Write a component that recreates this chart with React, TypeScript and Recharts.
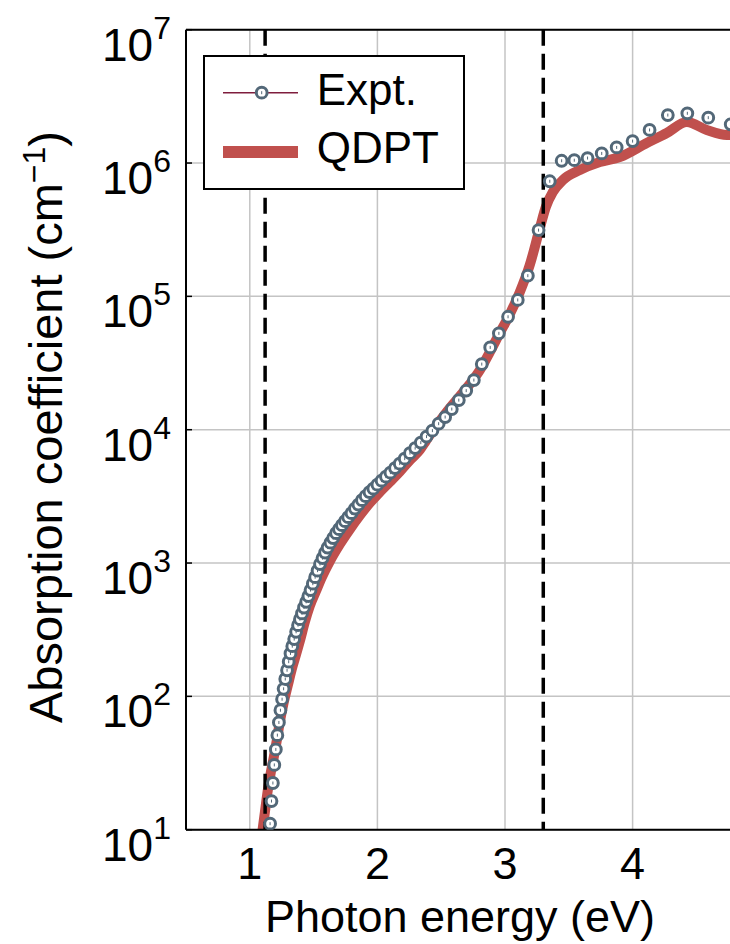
import React from 'react';
import { ComposedChart, Line, XAxis, YAxis, CartesianGrid, ReferenceLine } from 'recharts';

// Experimental points: photon energy (eV)
const exptEnergy = [
  1.159, 1.170, 1.181, 1.192, 1.204, 1.216, 1.228, 1.240, 1.253, 1.265,
  1.278, 1.292, 1.305, 1.319, 1.333, 1.348, 1.363, 1.378, 1.393, 1.409,
  1.425, 1.442, 1.459, 1.476, 1.494, 1.512, 1.531, 1.550, 1.570, 1.590,
  1.610, 1.632, 1.653, 1.676, 1.699, 1.722, 1.746, 1.771, 1.797, 1.824,
  1.851, 1.879, 1.908, 1.938, 1.968, 2.000, 2.033, 2.067, 2.102, 2.138,
  2.175, 2.214, 2.255, 2.296, 2.340, 2.385, 2.431, 2.480, 2.531, 2.583,
  2.638, 2.696, 2.756, 2.818, 2.884, 2.952, 3.024, 3.100, 3.179, 3.263,
  3.351, 3.444, 3.543, 3.647, 3.758, 3.875, 4.000, 4.133, 4.276, 4.429,
  4.593, 4.769,
];
// Experimental absorption coefficient (cm^-1)
const exptAbs = [
  11.1, 16.4, 22.4, 30.6, 40.0, 51.2, 63.7, 78.7, 95.2, 114,
  135, 157, 182, 210, 238, 269, 305, 342, 379, 419,
  464, 512, 565, 627, 700, 783, 877, 982, 1089, 1197,
  1306, 1422, 1538, 1675, 1795, 1924, 2061, 2208, 2366, 2559,
  2742, 2963, 3175, 3404, 3614, 3873, 4150, 4446, 4764, 5152,
  5566, 6067, 6670, 7278, 8000, 8876, 9840, 11100, 12440, 14280,
  16670, 19640, 23560, 31050, 41400, 52800, 70300, 94000, 143000, 314000,
  730000, 1040000, 1050000, 1090000, 1180000, 1310000, 1460000, 1770000, 2290000, 2360000,
  2190000, 1950000,
];

// QDPT calculated curve
const qdptEnergy = [
  1.100, 1.118, 1.141, 1.165, 1.188, 1.212, 1.235, 1.266, 1.298, 1.329,
  1.361, 1.392, 1.431, 1.470, 1.517, 1.564, 1.627, 1.705, 1.784, 1.862,
  1.940, 2.003, 2.097, 2.176, 2.254, 2.332, 2.379, 2.426, 2.489, 2.567,
  2.646, 2.724, 2.803, 2.881, 2.959, 3.038, 3.116, 3.194, 3.273, 3.320,
  3.375, 3.453, 3.586, 3.743, 3.900, 4.111, 4.268, 4.425, 4.581, 4.738,
  4.900,
];
const qdptAbs = [
  10, 13.5, 19.8, 27.0, 35.0, 46.9, 64.0, 90.6, 121, 160,
  204, 259, 360, 475, 610, 780, 1030, 1380, 1790, 2270,
  2820, 3280, 4050, 4850, 5900, 7031, 8210, 9590, 11600, 14520,
  17870, 21980, 28000, 38200, 53100, 73600, 107700, 171800, 325000, 468000,
  606000, 745000, 886000, 1017000, 1109000, 1413000, 1679000, 2030000, 1769000, 1622000,
  1650000,
];

const xTicks = [1, 2, 3, 4];
const yTicks = [10, 100, 1000, 10000, 100000, 1000000, 10000000];
const bandEdges = [1.12, 3.3];

const seriesNames = ['Expt.', 'QDPT'];
const xLabel = 'Photon energy (eV)';
const yLabelMain = 'Absorption coefficient (cm';
const yLabelSup = '\u22121';

const exptData = exptEnergy.map((x, i) => ({ x, y: exptAbs[i] }));
const qdptData = qdptEnergy.map((x, i) => ({ x, y: qdptAbs[i] }));

const FONT = '"Liberation Sans", Arial, Helvetica, sans-serif';
const RED = '#c0504d';
const MARKER = '#536878';
const MAROON = '#7f1d3d';

const PLOT_LEFT = 186;

const ExptDot = (props: any) => {
  const { cx, cy, index } = props;
  if (cx == null || cy == null) return <g key={`d${index}`} />;
  return (
    <g key={`d${index}`}>
      <circle cx={cx} cy={cy} r={5.4} fill="#ffffff" stroke={MARKER} strokeWidth={3} />
      <line x1={cx} y1={cy - 1.5} x2={cx} y2={cy + 1.5} stroke={MARKER} strokeWidth={1} />
    </g>
  );
};

const YTick = (props: any) => {
  const { y, payload } = props;
  const e = Math.round(Math.log10(payload.value));
  return (
    <g>
      <line x1={PLOT_LEFT} x2={PLOT_LEFT + 6} y1={y} y2={y} stroke="#000" strokeWidth={1.5} />
      <text x={171} y={y + 31} textAnchor="end" fontSize={46} fontFamily={FONT} fill="#000">
        10
        <tspan fontSize={32} dy={-22}>{e}</tspan>
      </text>
    </g>
  );
};

const XTick = (props: any) => {
  const { x, payload } = props;
  return (
    <text x={x} y={879} textAnchor="middle" fontSize={45} fontFamily={FONT} fill="#000">
      {payload.value}
    </text>
  );
};

export default function App() {
  return (
    <div
      style={{
        position: 'absolute',
        left: 0,
        top: 0,
        width: 730,
        height: 944,
        overflow: 'hidden',
        background: '#ffffff',
      }}
    >
      <ComposedChart
        width={780}
        height={944}
        margin={{ top: 29.7, right: 19.8, bottom: 54.3, left: 36 }}
      >
        <CartesianGrid stroke="#c4c4c4" strokeWidth={1.5} />
        <XAxis
          type="number"
          dataKey="x"
          domain={[0.5, 5]}
          ticks={xTicks}
          interval={0}
          allowDataOverflow
          height={60}
          axisLine={{ stroke: '#000', strokeWidth: 2 }}
          tickLine={false}
          tick={<XTick />}
        />
        <YAxis
          type="number"
          dataKey="y"
          scale="log"
          domain={[10, 10000000]}
          ticks={yTicks}
          interval={0}
          allowDataOverflow
          width={150}
          axisLine={{ stroke: '#000', strokeWidth: 2 }}
          tickLine={false}
          tick={<YTick />}
        />
        <ReferenceLine y={10000000} stroke="#000" strokeWidth={2} />
        <Line
          data={qdptData}
          dataKey="y"
          type="monotone"
          stroke={RED}
          strokeWidth={10}
          dot={false}
          isAnimationActive={false}
          name={seriesNames[1]}
        />
        {bandEdges.map((b) => (
          <ReferenceLine
            key={b}
            segment={[
              { x: b, y: 10000000 },
              { x: b, y: 10 },
            ]}
            stroke="#000"
            strokeWidth={3.5}
            strokeDasharray="16 8"
          />
        ))}
        <Line
          data={exptData}
          dataKey="y"
          type="linear"
          stroke="none"
          dot={ExptDot}
          activeDot={false}
          isAnimationActive={false}
          name={seriesNames[0]}
        />
      </ComposedChart>

      <svg
        width={730}
        height={944}
        style={{ position: 'absolute', left: 0, top: 0, pointerEvents: 'none' }}
      >
        <text
          x={460}
          y={932}
          textAnchor="middle"
          fontSize={45}
          fontFamily={FONT}
          fill="#000"
        >
          {xLabel}
        </text>
        <text
          transform="rotate(-90)"
          x={-427}
          y={62}
          textAnchor="middle"
          fontSize={47}
          fontFamily={FONT}
          fill="#000"
        >
          {yLabelMain}
          <tspan fontSize={32} dy={-17}>{yLabelSup}</tspan>
          <tspan dy={17}>)</tspan>
        </text>

        <g transform="translate(203,55)">
          <rect x={1} y={1} width={260} height={133} fill="#ffffff" stroke="#000" strokeWidth={2} />
          <line x1={20} y1={37.7} x2={95} y2={37.7} stroke={MAROON} strokeWidth={1.5} />
          <circle cx={58.7} cy={37.7} r={5.4} fill="#ffffff" stroke={MARKER} strokeWidth={3} />
          <line x1={58.7} y1={36.2} x2={58.7} y2={39.2} stroke={MARKER} strokeWidth={1} />
          <text x={113.7} y={50} fontSize={44} fontFamily={FONT} fill="#000">
            {seriesNames[0]}
          </text>
          <rect x={20} y={91} width={75} height={12} fill={RED} />
          <text x={113.7} y={108} fontSize={44} fontFamily={FONT} fill="#000">
            {seriesNames[1]}
          </text>
        </g>
      </svg>
    </div>
  );
}
